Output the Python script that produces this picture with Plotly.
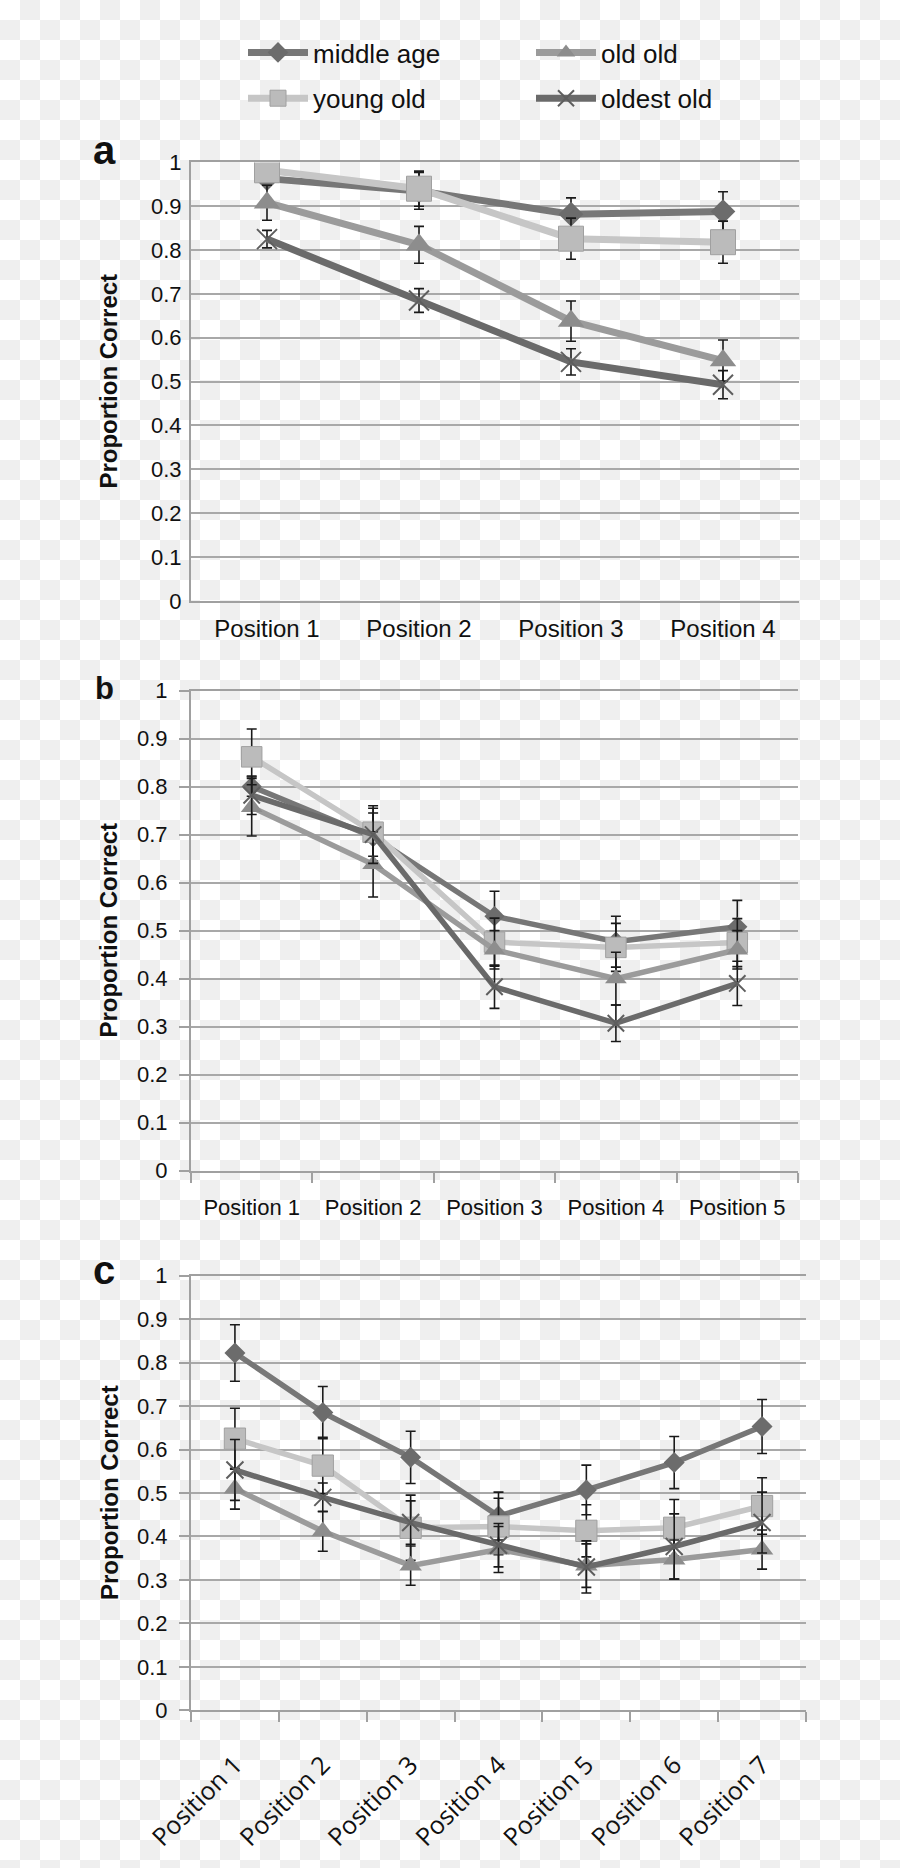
import base64
import plotly.graph_objects as go

# ---------------- data ----------------
series_names = ["middle age", "young old", "old old", "oldest old"]

cats_a = ["Position 1", "Position 2", "Position 3", "Position 4"]
cats_b = ["Position 1", "Position 2", "Position 3", "Position 4", "Position 5"]
cats_c = ["Position 1", "Position 2", "Position 3", "Position 4", "Position 5", "Position 6", "Position 7"]

ma_a = [0.963, 0.935, 0.882, 0.888]
yo_a = [0.982, 0.940, 0.826, 0.818]
oo_a = [0.908, 0.812, 0.638, 0.548]
xo_a = [0.825, 0.685, 0.545, 0.493]
ma_a_err = [0.015, 0.042, 0.037, 0.045]
yo_a_err = [0.010, 0.040, 0.047, 0.048]
oo_a_err = [0.040, 0.042, 0.046, 0.047]
xo_a_err = [0.020, 0.027, 0.030, 0.032]

ma_b = [0.800, 0.695, 0.530, 0.477, 0.508]
yo_b = [0.862, 0.705, 0.476, 0.465, 0.475]
oo_b = [0.757, 0.638, 0.460, 0.400, 0.460]
xo_b = [0.782, 0.700, 0.383, 0.307, 0.390]
ma_b_err = [0.020, 0.050, 0.052, 0.053, 0.055]
yo_b_err = [0.058, 0.050, 0.050, 0.050, 0.050]
oo_b_err = [0.060, 0.068, 0.040, 0.055, 0.040]
xo_b_err = [0.040, 0.060, 0.045, 0.038, 0.046]

ma_c = [0.822, 0.685, 0.582, 0.447, 0.507, 0.570, 0.653]
yo_c = [0.625, 0.563, 0.420, 0.423, 0.413, 0.420, 0.470]
oo_c = [0.510, 0.412, 0.333, 0.370, 0.333, 0.347, 0.370]
xo_c = [0.553, 0.490, 0.432, 0.380, 0.330, 0.377, 0.432]
ma_c_err = [0.065, 0.060, 0.060, 0.055, 0.057, 0.060, 0.062]
yo_c_err = [0.070, 0.065, 0.075, 0.065, 0.060, 0.065, 0.065]
oo_c_err = [0.047, 0.046, 0.045, 0.053, 0.050, 0.045, 0.045]
xo_c_err = [0.070, 0.033, 0.050, 0.050, 0.060, 0.075, 0.070]

y_ticks = [0, 0.1, 0.2, 0.3, 0.4, 0.5, 0.6, 0.7, 0.8, 0.9, 1]
y_ticktext = ["0", "0.1", "0.2", "0.3", "0.4", "0.5", "0.6", "0.7", "0.8", "0.9", "1"]

# ---------------- styles ----------------
W, H = 900, 1868
styles = {
    "middle age": dict(line="#777777", mk="#6c6c6c", sym="diamond", size=19, mlw=0, group="ma"),
    "young old": dict(line="#c6c6c6", mk="#bbbbbb", sym="square", size=25, mlw=1, group="yo"),
    "old old": dict(line="#9b9b9b", mk="#8d8d8d", sym="triangle-up", size=23, mlw=0, group="oo"),
    "oldest old": dict(line="#6a6a6a", mk="#5e5e5e", sym="x-thin", size=20, mlw=2, group="xo"),
}
legend_of = {"middle age": "legend", "young old": "legend", "old old": "legend2", "oldest old": "legend2"}

panels = [
    ("x", "y", cats_a, [ma_a, yo_a, oo_a, xo_a], [ma_a_err, yo_a_err, oo_a_err, xo_a_err], 7, 1.0, True),
    ("x2", "y2", cats_b, [ma_b, yo_b, oo_b, xo_b], [ma_b_err, yo_b_err, oo_b_err, xo_b_err], 5.5, 0.82, False),
    ("x3", "y3", cats_c, [ma_c, yo_c, oo_c, xo_c], [ma_c_err, yo_c_err, oo_c_err, xo_c_err], 5.5, 0.85, False),
]

fig = go.Figure()
for xa, ya, cats, vals, errs, lw, msc, show in panels:
    for name, v, e in zip(series_names, vals, errs):
        st = styles[name]
        mline = dict(width=st["mlw"], color=st["mk"] if name == "oldest old" else "#a0a0a0")
        fig.add_trace(go.Scatter(
            x=cats, y=v, name=name, xaxis=xa, yaxis=ya,
            mode="lines+markers",
            line=dict(color=st["line"], width=lw),
            marker=dict(symbol=st["sym"], size=st["size"] * msc, color=st["mk"], line=mline),
            error_y=dict(type="data", array=e, visible=True, color="#1a1a1a", thickness=1.6, width=5),
            legendgroup=st["group"], legend=legend_of[name], showlegend=show,
        ))

# ---------------- layout ----------------
def xd(px0, px1):
    return [px0 / W, px1 / W]

def yd(top, bottom):
    return [1 - bottom / H, 1 - top / H]

grid_col = "#a8a8a8"
axis_col = "#a0a0a0"
sans = "Liberation Sans, Arial, sans-serif"
ytick_font = dict(family=sans, size=22, color="#111111")

common_y = dict(range=[0, 1], tickvals=y_ticks, ticktext=y_ticktext, showgrid=True,
                gridcolor=grid_col, gridwidth=2, showline=True, linecolor=axis_col, linewidth=2,
                zeroline=False, tickfont=ytick_font, automargin=False, fixedrange=True)
common_x = dict(type="category", showline=True, linecolor=axis_col, linewidth=2, mirror=True,
                showgrid=False, zeroline=False, automargin=False, fixedrange=True)

legend_common = dict(xanchor="left", yanchor="top", orientation="v", traceorder="grouped",
                     tracegroupgap=9, bgcolor="rgba(0,0,0,0)", itemwidth=60,
                     font=dict(family=sans, size=26, color="#111111"))

fig.update_layout(
    width=W, height=H,
    margin=dict(l=0, r=0, t=0, b=0),
    paper_bgcolor="white", plot_bgcolor="white",
    xaxis=dict(common_x, domain=xd(191, 799), anchor="y", categoryarray=cats_a,
               range=[-0.5, len(cats_a) - 0.5], ticks="",
               tickfont=dict(family=sans, size=24, color="#111111"), ticklabelstandoff=5),
    yaxis=dict(common_y, domain=yd(162.4, 600.8), anchor="x", ticks="", ticklabelstandoff=3),
    xaxis2=dict(common_x, domain=xd(191, 798), anchor="y2", categoryarray=cats_b,
                range=[-0.5, len(cats_b) - 0.5], ticks="outside",
                tickson="boundaries", ticklen=10, tickwidth=2, tickcolor=axis_col,
                tickfont=dict(family=sans, size=22, color="#111111"), ticklabelstandoff=16),
    yaxis2=dict(common_y, domain=yd(690.6, 1170.6), anchor="x2", ticks="outside", ticklen=10,
                tickwidth=2, tickcolor=axis_col, ticklabelstandoff=7),
    xaxis3=dict(common_x, domain=xd(191, 806), anchor="y3", categoryarray=cats_c,
                range=[-0.5, len(cats_c) - 0.5], ticks="outside",
                tickson="boundaries", ticklen=10, tickwidth=2, tickcolor=axis_col, tickangle=-45,
                tickfont=dict(family="Open Sans, sans-serif", size=25, color="#111111"),
                ticklabelstandoff=28),
    yaxis3=dict(common_y, domain=yd(1275.6, 1710.4), anchor="x3", ticks="outside", ticklen=10,
                tickwidth=2, tickcolor=axis_col, ticklabelstandoff=7),
    legend=dict(legend_common, x=243 / W, y=1 - 29 / H),
    legend2=dict(legend_common, x=531 / W, y=1 - 29 / H),
    showlegend=True,
)

# y titles and panel letters
ann_font = dict(family=sans, size=24, color="#111111")
for ya, letter, lsize, ysh in [("y", "a", 40, 12), ("y2", "b", 31, 2), ("y3", "c", 40, 6)]:
    fig.add_annotation(text="<b>Proportion Correct</b>", xref="paper", yref=f"{ya} domain",
                       x=109 / W, y=0.5, textangle=-90, showarrow=False, font=ann_font,
                       xanchor="center", yanchor="middle")
    fig.add_annotation(text=f"<b>{letter}</b>", xref="paper", yref=f"{ya} domain",
                       x=104 / W, y=1.0, yshift=ysh, showarrow=False, xanchor="center",
                       yanchor="middle", font=dict(family=sans, size=lsize, color="#111111"))

# checkerboard backdrop (transparent-image look)
svg = (f'<svg xmlns="http://www.w3.org/2000/svg" width="{W}" height="{H}">'
       '<defs><pattern id="p" width="40" height="40" patternUnits="userSpaceOnUse">'
       '<rect width="40" height="40" fill="#ffffff"/>'
       '<rect x="20" y="0" width="20" height="20" fill="#efefef"/>'
       '<rect x="0" y="20" width="20" height="20" fill="#efefef"/>'
       '</pattern></defs>'
       f'<rect width="{W}" height="{H}" fill="url(#p)"/></svg>')
uri = "data:image/svg+xml;base64," + base64.b64encode(svg.encode()).decode()
fig.add_layout_image(source=uri, xref="paper", yref="paper", x=0, y=1, sizex=1, sizey=1,
                     xanchor="left", yanchor="top", sizing="stretch", layer="below")

fig.write_html("out.html", config={"displayModeBar": False},
               post_script="document.body.style.margin='0px';")
